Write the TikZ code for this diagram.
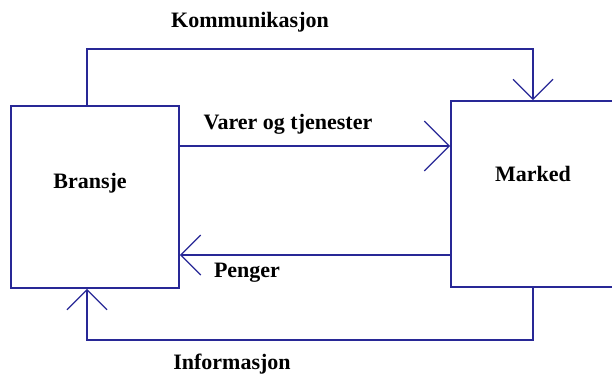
\documentclass[tikz,border=0pt]{standalone}
\usepackage{fontspec}
\setmainfont{Liberation Serif}
\usetikzlibrary{arrows.meta}
\definecolor{flowblue}{RGB}{40,40,150}

\tikzset{
  box/.style={rectangle, draw=flowblue, line width=1.8bp, inner sep=0pt},
  arr/.style={draw=flowblue, line width=1.8bp, -{Straight Barb[length=20bp, width=40bp, line width=1.2bp]}},
  bigarr/.style={arr, -{Straight Barb[length=25bp, width=50bp, line width=1.2bp]}},
  lbl/.style={font=\fontsize{22bp}{26bp}\selectfont\bfseries, inner sep=0pt}
}

\begin{document}
\begin{tikzpicture}[x=1bp, y=1bp]
    \useasboundingbox (0,0) rectangle (612,377);

    % Blocks
    \node[box, minimum width=168bp, minimum height=182bp] (bransje) at (95,180) {};
    \node[box, minimum width=164bp, minimum height=186bp] (marked) at (533,183) {};
    \node[lbl] (bransjeTxt) at (90,194) {Bransje};
    \node[lbl] (markedTxt) at (533,203) {Marked};

    % Flows
    \draw[arr] ([xshift=-8bp]bransje.north) -- ++(0,56) -| (marked.north);
    \draw[bigarr] ([yshift=51bp]bransje.east) -- ([yshift=51bp]bransje.east -| marked.west);
    \draw[arr] ([yshift=-61bp]marked.west) -- ([yshift=-61bp]marked.west -| bransje.east);
    \draw[arr] (marked.south) -- ++(0,-52) -| ([xshift=-8bp]bransje.south);

    % Flow labels
    \node[lbl] (kommTxt) at (250,355) {Kommunikasjon};
    \node[lbl] (varerTxt) at (288,253) {Varer og tjenester};
    \node[lbl] (pengerTxt) at (247,104) {Penger};
    \node[lbl] (infoTxt) at (232,13) {Informasjon};
\end{tikzpicture}
\end{document}
